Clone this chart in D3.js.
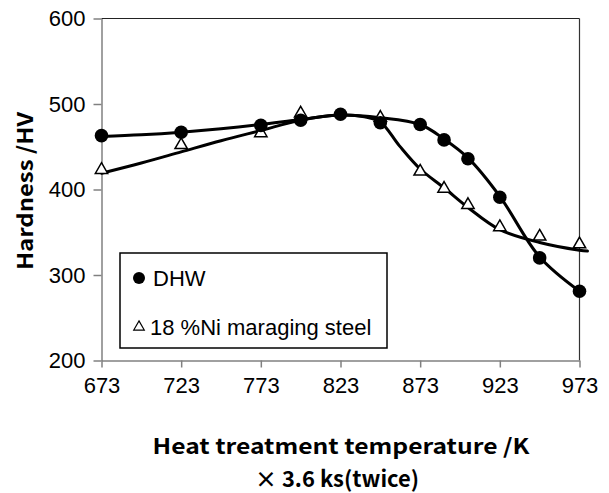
<!DOCTYPE html>
<html>
<head>
<meta charset="utf-8">
<script src="https://cdn.jsdelivr.net/npm/d3@7/dist/d3.min.js"></script>
<style>
  html, body { margin: 0; padding: 0; background: #fff; }
  svg { display: block; }
</style>
</head>
<body>
<svg id="chart" width="609" height="493"></svg>
<script>
// Heat treatment temperature (K) and measured hardness (HV)
const dhwTemps = [673, 723, 773, 798, 823, 848, 873, 888, 903, 923, 948, 973];
const dhwHardness = [463, 467, 475, 481, 488, 478, 476, 458, 436, 391, 320, 281];

const marTemps = [673, 723, 773, 798, 848, 873, 888, 903, 923, 948, 973];
const marHardness = [423, 452, 466, 489, 484, 421, 401, 382, 356, 345, 336];

// Smoothed trend curves drawn over each series
const dhwFitTemps = [673, 698, 723, 748, 773, 798, 823, 848, 873, 888, 903, 923, 948, 973];
const dhwFitHardness = [462, 464, 467, 471, 476, 482, 487, 484, 476, 459, 437, 392, 321, 281];

const marFitTemps = [673, 698, 723, 748, 773, 798, 823, 838, 848, 860, 873, 888, 903, 923, 948, 973, 978];
const marFitHardness = [419, 431, 444, 457, 469, 481, 487, 485, 479, 451, 424, 402, 379, 353, 338, 329, 328];

const xTicks = [673, 723, 773, 823, 873, 923, 973];
const yTicks = [200, 300, 400, 500, 600];

const legendLabels = ["DHW", "18 %Ni maraging steel"];

const latin = "'Liberation Sans', Arial, sans-serif";
const gothic = "'Noto Sans CJK JP', 'Noto Sans', sans-serif";

const svg = d3.select("#chart");

const x = d3.scaleLinear().domain([673, 973]).range([101.5, 579.5]);
const y = d3.scaleLinear().domain([200, 600]).range([360.5, 18.5]);

// Frame: top and right border
svg.append("line")
  .attr("x1", x(673)).attr("x2", x(973)).attr("y1", y(600)).attr("y2", y(600))
  .attr("stroke", "#222").attr("stroke-width", 1.2);
svg.append("line")
  .attr("x1", x(973)).attr("x2", x(973)).attr("y1", y(600)).attr("y2", y(200))
  .attr("stroke", "#333").attr("stroke-width", 1.2);

// Y axis
const yAxis = svg.append("g")
  .attr("transform", `translate(${x(673)},0)`)
  .call(d3.axisLeft(y).tickValues(yTicks).tickSize(8).tickPadding(8).tickSizeOuter(0));
yAxis.select(".domain").attr("stroke", "#808080").attr("stroke-width", 1.5);
yAxis.selectAll(".tick line").attr("stroke", "#808080").attr("stroke-width", 1.5);
yAxis.selectAll(".tick text")
  .style("font-family", latin)
  .attr("font-size", 22).attr("fill", "#000");

// X axis
const xAxis = svg.append("g")
  .attr("transform", `translate(0,${y(200)})`)
  .call(d3.axisBottom(x).tickValues(xTicks).tickFormat(d3.format("d")).tickSize(7).tickPadding(10).tickSizeOuter(0));
xAxis.select(".domain").attr("stroke", "#808080").attr("stroke-width", 1.5);
xAxis.selectAll(".tick line").attr("stroke", "#808080").attr("stroke-width", 1.5);
xAxis.selectAll(".tick text")
  .style("font-family", latin)
  .attr("font-size", 22).attr("fill", "#000");

// Trend curves
const curveLine = d3.line()
  .x(d => x(d[0]))
  .y(d => y(d[1]))
  .curve(d3.curveCatmullRom.alpha(0.5));

svg.append("path")
  .datum(d3.zip(marFitTemps, marFitHardness))
  .attr("d", curveLine)
  .attr("fill", "none").attr("stroke", "#000").attr("stroke-width", 3)
  .attr("stroke-linecap", "round");

svg.append("path")
  .datum(d3.zip(dhwFitTemps, dhwFitHardness))
  .attr("d", curveLine)
  .attr("fill", "none").attr("stroke", "#000").attr("stroke-width", 3)
  .attr("stroke-linecap", "round");

// Maraging steel: open triangles
const tri = d3.symbol().type(d3.symbolTriangle).size(66);
svg.append("g").selectAll("path")
  .data(d3.zip(marTemps, marHardness))
  .join("path")
  .attr("d", tri)
  .attr("transform", d => `translate(${x(d[0])},${y(d[1])})`)
  .attr("fill", "#fff").attr("stroke", "#000").attr("stroke-width", 1.5);

// DHW: filled circles
svg.append("g").selectAll("circle")
  .data(d3.zip(dhwTemps, dhwHardness))
  .join("circle")
  .attr("cx", d => x(d[0])).attr("cy", d => y(d[1]))
  .attr("r", 6.8).attr("fill", "#000");

// Legend
const lg = svg.append("g");
lg.append("rect")
  .attr("x", 120).attr("y", 253).attr("width", 267).attr("height", 95)
  .attr("fill", "#fff").attr("stroke", "#000").attr("stroke-width", 1.5);
lg.append("circle").attr("cx", 139).attr("cy", 278).attr("r", 6).attr("fill", "#000");
lg.append("text").attr("x", 153).attr("y", 286)
  .style("font-family", latin).attr("font-size", 22).text(legendLabels[0]);
lg.append("path")
  .attr("d", d3.symbol().type(d3.symbolTriangle).size(48))
  .attr("transform", "translate(139,327)")
  .attr("fill", "#fff").attr("stroke", "#000").attr("stroke-width", 1.2);
lg.append("text").attr("x", 150).attr("y", 335)
  .style("font-family", latin).attr("font-size", 22).text(legendLabels[1]);

// Axis titles
svg.append("text")
  .attr("transform", "translate(33,191) rotate(-90)")
  .attr("text-anchor", "middle")
  .style("font-family", gothic)
  .attr("font-weight", "bold").attr("font-size", 21)
  .attr("textLength", 158).attr("lengthAdjust", "spacingAndGlyphs")
  .text("Hardness /HV");

svg.append("text")
  .attr("x", 341).attr("y", 454)
  .attr("text-anchor", "middle")
  .style("font-family", gothic)
  .attr("font-weight", "bold").attr("font-size", 21)
  .attr("textLength", 377).attr("lengthAdjust", "spacingAndGlyphs")
  .text("Heat treatment temperature /K");

svg.append("text")
  .attr("x", 337).attr("y", 487)
  .attr("text-anchor", "middle")
  .style("font-family", gothic)
  .attr("font-weight", "bold").attr("font-size", 22)
  .attr("textLength", 164).attr("lengthAdjust", "spacingAndGlyphs")
  .text("× 3.6 ks(twice)");
</script>
</body>
</html>
